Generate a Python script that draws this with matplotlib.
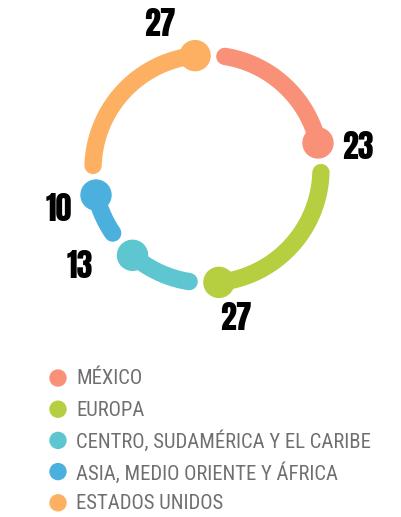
import numpy as np
import matplotlib
matplotlib.use("Agg")
import matplotlib.pyplot as plt
from matplotlib.patches import Circle

# Data
categories = ["MÉXICO", "EUROPA", "CENTRO, SUDAMÉRICA Y EL CARIBE",
              "ASIA, MEDIO ORIENTE Y ÁFRICA", "ESTADOS UNIDOS"]
values = [23, 27, 13, 10, 27]
colors = ["#F99178", "#B5CF40", "#5DC6D0", "#4CB0DE", "#FDB062"]

# Layout (pixel space, y grows downward)
W, H = 401, 517
cx, cy, R = 207, 169, 114
gap_start, gap_end = 9, 6            # degrees trimmed from each segment
label_r = [152, 152, 160, 154, 152]  # radius of each value label
label_turn = [5, -5, 12, -2, -12]    # angular nudge of each label from its end dot

NUM_FONT = ["Anton", "DejaVu Sans"]
TXT_FONT = ["Roboto Condensed", "DejaVu Sans"]

fig = plt.figure(figsize=(W / 100, H / 100), dpi=100)
ax = fig.add_axes([0, 0, 1, 1])
ax.set_xlim(0, W)
ax.set_ylim(H, 0)
ax.set_aspect("equal")
ax.axis("off")

def pt(theta_deg, r=R):
    t = np.radians(theta_deg)
    return cx + r * np.sin(t), cy - r * np.cos(t)

total = sum(values)
cum = 0
for val, col, turn, lr in zip(values, colors, label_turn, label_r):
    a0 = cum / total * 360 + gap_start
    a1 = (cum + val) / total * 360 - gap_end
    cum += val
    th = np.linspace(a0, a1, 200)
    xs, ys = pt(th)
    ax.plot(xs, ys, color=col, lw=12.5, solid_capstyle="round")
    ex, ey = pt(a1)
    ax.add_patch(Circle((ex, ey), 15, color=col, zorder=3))
    lx, ly = pt(a1 + turn, lr)
    ax.text(lx, ly, str(val), ha="center", va="center", fontsize=23,
            color="black", family=NUM_FONT)

# Legend
for i, (cat, col) in enumerate(zip(categories, colors)):
    y = 378 + 31.2 * i
    ax.add_patch(Circle((58, y), 8, color=col))
    ax.text(76, y + 1, cat, ha="left", va="center", fontsize=14.9,
            color="#6F6F6F", family=TXT_FONT)

fig.savefig("out.png", dpi=100)
